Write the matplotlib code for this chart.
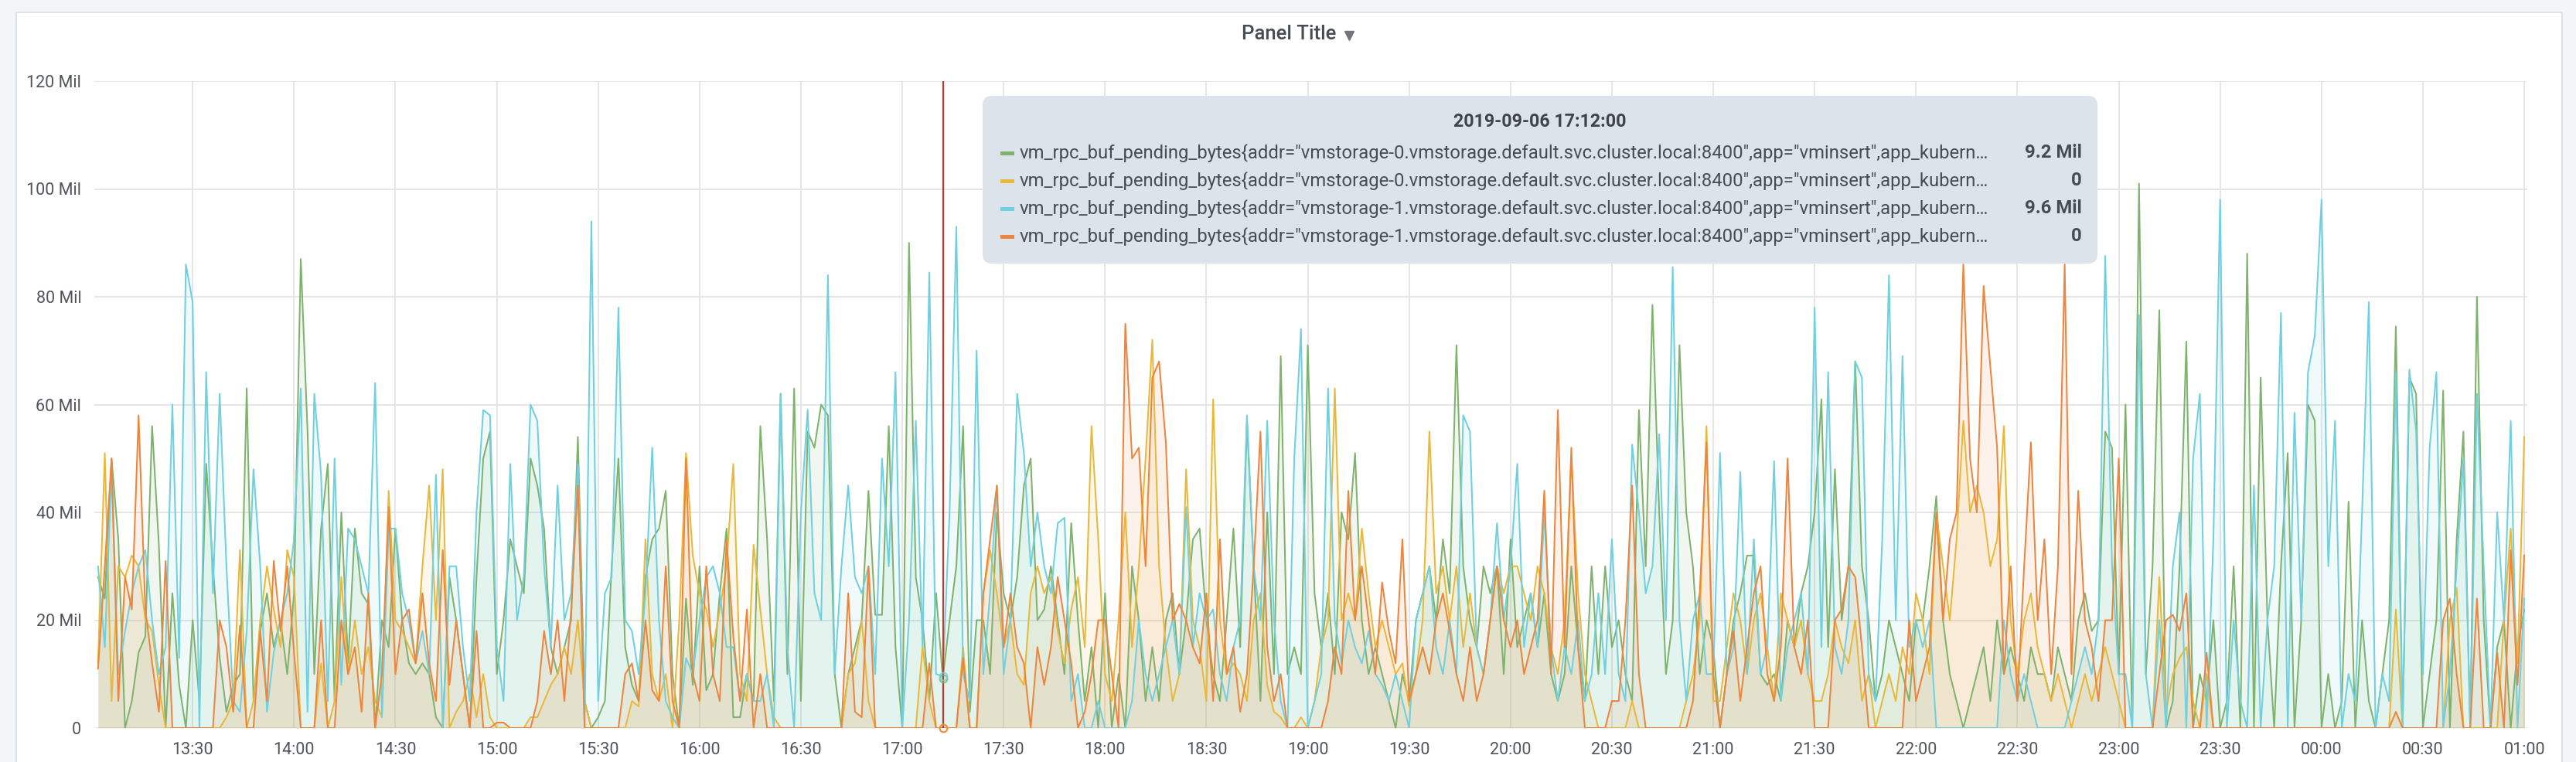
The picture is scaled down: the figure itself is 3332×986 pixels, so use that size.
import numpy as np
import matplotlib
matplotlib.use("Agg")
import matplotlib.pyplot as plt
from matplotlib.patches import FancyBboxPatch, Rectangle
from matplotlib.lines import Line2D
from matplotlib.transforms import IdentityTransform

# ---------------- data (values in millions, 2-minute samples from 13:02) ----------------
tick_labels = ["13:30", "14:00", "14:30", "15:00", "15:30", "16:00", "16:30", "17:00",
               "17:30", "18:00", "18:30", "19:00", "19:30", "20:00", "20:30", "21:00",
               "21:30", "22:00", "22:30", "23:00", "23:30", "00:00", "00:30", "01:00"]
y_ticks = [0, 20, 40, 60, 80, 100, 120]

green = [
    28, 24, 50, 35, 0, 5, 14, 17, 56, 34, 0, 25, 8, 0, 20,
    5, 49, 30, 13, 3, 8, 10, 63, 5, 18, 25, 15, 20, 10, 25,
    87, 55, 10, 37, 49, 5, 40, 12, 37, 25, 23, 0, 20, 15, 37,
    20, 12, 10, 12, 10, 2, 0, 28, 20, 10, 0, 28, 50, 55, 10,
    20, 35, 30, 25, 50, 45, 37, 15, 10, 15, 20, 54, 5, 0, 2,
    5, 30, 50, 15, 8, 5, 28, 35, 37, 44, 10, 0, 24, 8, 30,
    7, 10, 25, 37, 2, 2, 10, 5, 56, 35, 5, 62, 10, 63, 5,
    55, 52, 60, 58, 10, 0, 10, 15, 20, 44, 21, 21, 56, 15, 0,
    90, 28, 20, 5, 25, 9.2, 20, 30, 56, 3, 20, 20, 10, 40, 25,
    20, 28, 45, 50, 20, 22, 30, 20, 10, 38, 20, 5, 15, 0, 25,
    0, 10, 0, 30, 20, 5, 15, 5, 20, 25, 10, 20, 35, 37, 20,
    10, 5, 20, 37, 15, 57, 30, 5, 40, 10, 69, 10, 15, 10, 71,
    25, 15, 25, 10, 40, 35, 51, 20, 10, 15, 10, 5, 0, 10, 5,
    20, 25, 30, 20, 35, 25, 71, 30, 20, 15, 30, 25, 30, 10, 35,
    15, 20, 25, 15, 25, 10, 5, 10, 30, 15, 5, 30, 10, 30, 15,
    20, 10, 5, 59, 30, 78.5, 40, 10, 20, 71, 40, 30, 10, 20, 15,
    0, 10, 20, 25, 32, 32, 10, 8, 10, 5, 20, 15, 25, 30, 40,
    61, 15, 48, 20, 30, 68, 30, 20, 5, 10, 20, 15, 10, 5, 20,
    20, 30, 43, 20, 10, 5, 0, 5, 10, 15, 5, 20, 10, 15, 10,
    5, 15, 10, 10, 5, 15, 10, 5, 20, 25, 18, 20, 55, 52, 10,
    60, 0, 101, 10, 30, 77.5, 0, 5, 30, 71.7, 0, 10, 5, 20, 0,
    5, 30, 0, 88, 0, 65, 20, 0, 30, 51, 0, 20, 60, 57, 0,
    10, 0, 5, 42, 0, 20, 5, 0, 10, 20, 74.5, 0, 65, 62, 0,
    10, 20, 62.6, 0, 35, 55, 0, 80, 20, 0, 15, 20, 0, 15, 22,
]

yellow = [
    12, 51, 5, 30, 28, 32, 30, 20, 18, 8, 0, 0, 0, 0, 0,
    0, 0, 0, 0, 2, 5, 33, 0, 5, 20, 30, 22, 15, 33, 28,
    0, 0, 0, 12, 0, 5, 28, 10, 20, 10, 15, 5, 2, 44, 20,
    18, 15, 12, 30, 45, 20, 48, 0, 3, 5, 10, 2, 10, 2, 0,
    0, 0, 0, 0, 2, 2, 5, 8, 10, 15, 10, 20, 5, 0, 0,
    0, 0, 0, 0, 5, 4, 35, 10, 5, 10, 0, 20, 51, 32, 25,
    22, 15, 22, 30, 49, 10, 5, 34, 22, 10, 2, 0, 0, 0, 0,
    0, 0, 0, 0, 0, 0, 10, 12, 20, 5, 0, 0, 0, 0, 0,
    0, 0, 15, 5, 0, 0, 0, 0, 15, 0, 0, 25, 33, 25, 15,
    20, 10, 8, 25, 30, 25, 28, 18, 12, 22, 28, 15, 56, 35, 10,
    5, 20, 40, 15, 30, 50, 72, 30, 15, 5, 10, 48, 20, 15, 5,
    61, 20, 10, 12, 10, 5, 20, 25, 8, 3, 2, 0, 0, 2, 0,
    5, 15, 20, 63, 20, 25, 20, 37, 25, 15, 20, 15, 10, 12, 4,
    10, 20, 55, 25, 30, 20, 30, 15, 25, 15, 10, 20, 30, 25, 30,
    30, 25, 20, 30, 25, 15, 10, 20, 50, 25, 10, 5, 0, 0, 0,
    0, 0, 5, 0, 0, 0, 0, 0, 0, 0, 5, 10, 20, 56, 5,
    5, 15, 25, 20, 10, 20, 25, 15, 5, 25, 20, 15, 20, 10, 5,
    5, 10, 20, 15, 12, 20, 5, 10, 0, 5, 10, 5, 15, 10, 25,
    20, 10, 40, 30, 20, 35, 57, 40, 45, 40, 30, 35, 56, 20, 10,
    20, 25, 15, 10, 5, 10, 5, 0, 5, 10, 5, 10, 15, 10, 5,
    0, 0, 0, 0, 0, 28, 3, 10, 13, 15, 5, 0, 10, 0, 0,
    0, 0, 0, 0, 0, 0, 0, 0, 0, 0, 0, 0, 0, 0, 0,
    0, 0, 0, 0, 0, 0, 0, 0, 0, 0, 22, 0, 0, 0, 0,
    0, 0, 0, 20, 26, 0, 0, 0, 0, 0, 0, 20, 37, 12, 54,
]

blue = [
    30, 15, 48, 10, 18, 25, 30, 33, 20, 10, 15, 60, 13, 86, 79,
    0, 66, 25, 62, 30, 5, 3, 18, 48, 30, 3, 14, 20, 25, 35,
    63, 3, 62, 47, 5, 50, 8, 37, 35, 30, 25, 64, 2, 37, 37,
    25, 20, 12, 18, 10, 47, 0, 30, 30, 15, 5, 40, 59, 58, 15,
    5, 49, 20, 28, 60, 57, 30, 15, 45, 20, 25, 49, 0, 94, 5,
    25, 28, 78, 20, 18, 10, 25, 52, 20, 5, 2, 0, 13, 10, 20,
    28, 30, 25, 15, 15, 5, 10, 5, 5, 10, 0, 62, 15, 0, 40,
    59, 25, 20, 84, 10, 30, 45, 28, 25, 30, 10, 50, 30, 66, 0,
    20, 57, 15, 84.5, 10, 9.6, 40, 93, 10, 5, 70, 10, 25, 45, 10,
    20, 62, 51, 30, 40, 30, 25, 38, 39, 5, 10, 0, 0, 5, 0,
    0, 0, 0, 5, 20, 10, 5, 10, 15, 20, 10, 41, 15, 25, 20,
    22, 10, 5, 15, 20, 58, 30, 20, 57, 20, 5, 0, 50, 74, 0,
    5, 10, 63, 20, 12, 20, 15, 12, 18, 10, 8, 5, 10, 5, 0,
    20, 25, 30, 15, 10, 20, 10, 58, 55, 15, 10, 20, 38, 20, 30,
    49, 15, 25, 15, 40, 15, 5, 15, 10, 20, 5, 10, 25, 10, 35,
    10, 5, 52.6, 40, 25, 30, 54.5, 20, 85.5, 20, 5, 20, 25, 10, 10,
    51, 10, 15, 47.5, 10, 35, 10, 15, 49.5, 5, 15, 20, 25, 10, 78,
    15, 66, 15, 10, 20, 68, 65, 10, 5, 35, 84, 20, 69, 15, 20,
    15, 20, 0, 0, 0, 0, 0, 0, 0, 0, 0, 0, 20, 10, 5,
    10, 5, 0, 0, 0, 0, 0, 5, 10, 15, 10, 20, 87.6, 30, 10,
    10, 0, 76.6, 10, 0, 20, 0, 30, 40, 0, 50, 62, 0, 35, 98,
    0, 20, 5, 0, 45, 0, 20, 30, 77, 0, 58.5, 20, 66, 72.7, 98,
    30, 57, 0, 10, 5, 40, 79, 0, 10, 5, 66, 0, 66.5, 55, 10,
    52, 66, 0, 10, 30, 50, 0, 62, 30, 0, 40, 20, 57, 0, 24,
]

orange = [
    11, 30, 50, 5, 28, 22, 58, 22, 12, 3, 31, 0, 0, 0, 0,
    0, 0, 0, 20, 15, 3, 19, 0, 0, 18, 5, 31, 18, 30, 14,
    0, 0, 0, 20, 0, 0, 20, 10, 15, 3, 25, 0, 10, 41, 10,
    20, 22, 12, 25, 12, 5, 33, 8, 20, 10, 0, 18, 0, 0, 1,
    1, 0, 0, 0, 0, 5, 18, 10, 20, 5, 22, 45, 0, 0, 0,
    0, 0, 0, 10, 12, 5, 20, 7, 5, 30, 5, 0, 50, 10, 5,
    30, 10, 5, 35, 17, 5, 22, 0, 10, 0, 0, 0, 0, 0, 0,
    0, 0, 0, 0, 0, 0, 25, 3, 2, 30, 0, 0, 0, 0, 0,
    0, 0, 0, 12, 0, 0, 0, 0, 13, 0, 0, 25, 35, 45, 15,
    25, 15, 12, 0, 15, 8, 15, 28, 20, 12, 0, 3, 10, 20, 20,
    10, 0, 75, 50, 52, 30, 65, 68, 53, 20, 23, 20, 15, 12, 25,
    5, 35, 10, 15, 3, 10, 30, 55, 15, 5, 10, 0, 0, 0, 0,
    0, 0, 5, 15, 10, 44, 20, 30, 20, 10, 27, 18, 12, 35, 5,
    10, 15, 10, 20, 25, 18, 10, 5, 15, 5, 10, 20, 30, 20, 15,
    20, 10, 15, 20, 44, 10, 59, 15, 52, 15, 0, 0, 0, 0, 5,
    5, 20, 45, 10, 0, 0, 0, 0, 0, 0, 0, 5, 25, 53, 10,
    0, 10, 18, 5, 15, 25, 30, 10, 5, 15, 50, 15, 10, 20, 0,
    0, 0, 20, 22, 30, 28, 15, 0, 0, 0, 0, 0, 0, 20, 5,
    10, 15, 40, 20, 35, 40, 86, 50, 40, 82, 67, 52, 10, 30, 5,
    30, 53, 20, 35, 10, 30, 86, 10, 44, 20, 15, 5, 20, 20, 50,
    0, 0, 0, 0, 0, 10, 20, 21, 18, 25, 0, 0, 14, 0, 0,
    0, 0, 0, 0, 0, 0, 0, 0, 0, 0, 0, 0, 0, 0, 0,
    0, 0, 0, 0, 0, 0, 0, 0, 0, 0, 3, 0, 0, 0, 0,
    0, 0, 20, 24, 10, 0, 0, 24, 0, 0, 14, 0, 33, 8, 32,
]

series_names = [
    'vm_rpc_buf_pending_bytes{addr="vmstorage-0.vmstorage.default.svc.cluster.local:8400",app="vminsert",app_kubern\u2026',
    'vm_rpc_buf_pending_bytes{addr="vmstorage-0.vmstorage.default.svc.cluster.local:8400",app="vminsert",app_kubern\u2026',
    'vm_rpc_buf_pending_bytes{addr="vmstorage-1.vmstorage.default.svc.cluster.local:8400",app="vminsert",app_kubern\u2026',
    'vm_rpc_buf_pending_bytes{addr="vmstorage-1.vmstorage.default.svc.cluster.local:8400",app="vminsert",app_kubern\u2026',
]
colors = ["#7EB26D", "#EAB839", "#6ED0E0", "#EF843C"]
hover_label = "2019-09-06 17:12:00"
hover_minute = 252          # minutes after 13:00
start_minute, step_minutes = 2, 2

# ---------------- layout ----------------
W, H, DPI = 3332, 986, 100
plt.rcParams['font.family'] = ['Roboto', 'DejaVu Sans']
TEXT = '#52545c'

fig = plt.figure(figsize=(W / DPI, H / DPI), dpi=DPI, facecolor='#f4f5f8')

def fxy(x, y):
    return x / W, 1 - y / H

# panel background (drawn below the axes)
panel = Rectangle(fxy(21, 1200), (3314 - 21) / W, (1200 - 16) / H,
                  transform=fig.transFigure, fc='white', ec='#dde2e8', lw=1.5, zorder=-5)
fig.patches.append(panel)

L, R, T, B = 122, 3269, 105, 942
ax = fig.add_axes([L / W, 1 - B / H, (R - L) / W, (B - T) / H])
ax.set_facecolor('none')
ax.set_zorder(1)

n = len(green)
minutes = start_minute + step_minutes * np.arange(n)
data = [np.array(green, float), np.array(yellow, float), np.array(blue, float), np.array(orange, float)]

for vals, c in zip(data, colors):
    ax.fill_between(minutes, 0, vals * 1e6, color=c, alpha=0.1, lw=0, zorder=2)
    ax.plot(minutes, vals * 1e6, color=c, lw=1.45, zorder=3)

ax.set_xlim(0.9, 720.9)
ax.set_ylim(0, 120e6)
ax.set_yticks([v * 1e6 for v in y_ticks])
ax.set_yticklabels(["0" if v == 0 else f"{v} Mil" for v in y_ticks])
ax.set_xticks(30 * (1 + np.arange(len(tick_labels))))
ax.set_xticklabels(tick_labels)
ax.tick_params(length=0, labelsize=15.5, labelcolor=TEXT)
ax.tick_params(axis='y', pad=12)
ax.tick_params(axis='x', pad=13)
for s in ax.spines.values():
    s.set_visible(False)
ax.grid(True, color='#e6e6e6', lw=1.4, zorder=0)
ax.set_axisbelow(True)

# hover line & markers
ax.axvline(hover_minute, color='#c0392b', lw=1.6, zorder=5)
hi = int(np.argmin(np.abs(minutes - hover_minute)))
for vals, c in zip(data, colors):
    ax.plot([hover_minute], [vals[hi] * 1e6], 'o', ms=7, mfc='none', mec=c, mew=1.5,
            zorder=6, clip_on=False, alpha=0.8)

# title
fig.text(*fxy(1667, 44), "Panel Title", ha='center', va='center', fontsize=18.5,
         fontweight='medium', color='#464c54')
fig.add_artist(Line2D([1745 / W], [1 - 46 / H], marker='v', ms=9, color='#72757d',
                      transform=fig.transFigure, lw=0))

# tooltip
tx0, ty0, tx1, ty1 = 1271, 124, 2713, 341
tip = FancyBboxPatch((tx0, H - ty1), tx1 - tx0, ty1 - ty0,
                     boxstyle="round,pad=0,rounding_size=12",
                     transform=IdentityTransform(), fc='#dde3eb', ec='none', zorder=10)
fig.patches.append(tip)

canvas = fig.canvas
renderer = canvas.get_renderer()

def fit_size(text, target, weight='normal'):
    probe = fig.text(0, 0, text, fontsize=16, fontweight=weight)
    w = probe.get_window_extent(renderer).width
    probe.remove()
    return 16 * target / w

fig.text(*fxy(1992, 157), hover_label, ha='center', va='center',
         fontsize=fit_size(hover_label, 224, 'bold'),
         fontweight='bold', color='#3f444c', zorder=11)

def fmt(v):
    return "0" if v == 0 else f"{v:.1f} Mil"

row_y = [198, 234, 270, 306]
fs = fit_size(series_names[0], 1254)
for name, vals, c, yy in zip(series_names, data, colors, row_y):
    fig.patches.append(Rectangle((1294, H - yy - 2.5), 18, 5, transform=IdentityTransform(),
                                 fc=c, ec='none', zorder=11))
    fig.text(*fxy(1319, yy), name, ha='left', va='center', fontsize=fs, color='#464c54', zorder=11)
    fig.text(*fxy(2693, yy), fmt(vals[hi]), ha='right', va='center', fontsize=fs,
             fontweight='bold', color='#464c54', zorder=11)

fig.savefig("out.png", dpi=DPI, facecolor=fig.get_facecolor())
